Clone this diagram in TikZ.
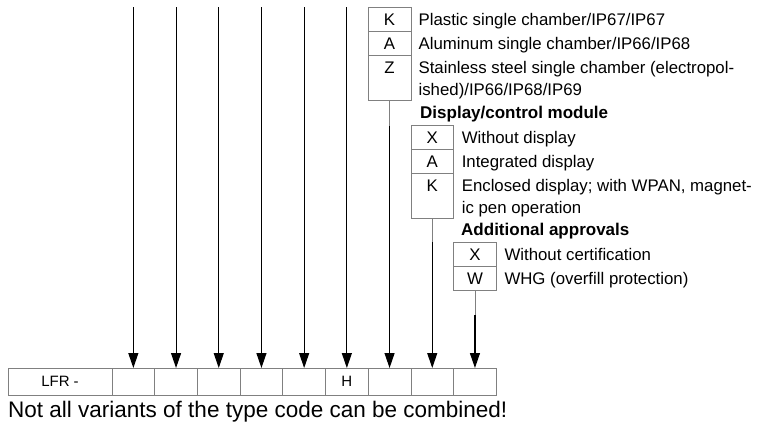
\documentclass[tikz,border=0pt]{standalone}
\usepackage{fontspec}
\setmainfont{Liberation Sans}
\usetikzlibrary{arrows.meta,positioning}

\tikzset{
    codecell/.style={draw=gray, line width=0.8pt, minimum width=42.7pt, minimum height=27pt, inner sep=0pt, outer sep=0pt, font=\fontsize{15}{18}\selectfont},
    optbox/.style={draw=gray, line width=0.8pt, minimum width=42.7pt, minimum height=24pt, inner sep=0pt, outer sep=0pt, text height=18pt, text depth=6pt, font=\fontsize{16.8}{22}\selectfont},
    optboxlong/.style={optbox, minimum height=45pt, text depth=27pt},
    opttext/.style={anchor=base west, inner sep=0pt, align=left, font=\fontsize{16.8}{22}\selectfont},
    headtext/.style={anchor=base west, inner sep=0pt, font=\bfseries\fontsize{17}{20}\selectfont},
    codearrow/.style={-{Triangle[length=15pt,width=10pt]}, line width=1.1pt},
    feedline/.style={gray, line width=0.8pt}
}

\begin{document}
\begin{tikzpicture}[x=1pt,y=-1pt]
                \useasboundingbox (0,0) rectangle (760,426);
                \coordinate (topline) at (0,7);
                \coordinate (disptop) at (0,125);
                \coordinate (apprtop) at (0,242);
                \node[codecell, minimum width=104pt] (c0) at (60,381.5) {LFR -};
                \foreach \i/\t [remember=\i as \last (initially 0)] in {1/,2/,3/,4/,5/,6/H,7/,8/,9/}
                    \node[codecell, right=0pt of c\last] (c\i) {\t};
                \foreach \i in {1,...,6}
                    \draw[codearrow] (c\i.north |- topline) -- (c\i.north);
                \node[optbox, anchor=north] (housK) at (c7.north |- topline) {K};
                \node[optbox, below=0pt of housK] (housA) {A};
                \node[optboxlong, below=0pt of housA] (housZ) {Z};
                \node[opttext] (housKt) at ([shift={(7.5,0)}]housK.base east) {Plastic single chamber/IP67/IP67};
                \node[opttext] (housAt) at ([shift={(7.5,0)}]housA.base east) {Aluminum single chamber/IP66/IP68};
                \node[opttext] (housZt) at ([shift={(7.5,22)}]housZ.base east) {Stainless steel single chamber (electropol-\\ished)/IP66/IP68/IP69};
                \node[headtext] (dispHead) at (420,118) {Display/control module};
                \node[optbox, anchor=north] (dispX) at (c8.north |- disptop) {X};
                \node[optbox, below=0pt of dispX] (dispA) {A};
                \node[optboxlong, below=0pt of dispA] (dispK) {K};
                \node[opttext] (dispXt) at ([shift={(8,0)}]dispX.base east) {Without display};
                \node[opttext] (dispAt) at ([shift={(8,0)}]dispA.base east) {Integrated display};
                \node[opttext] (dispKt) at ([shift={(8,22)}]dispK.base east) {Enclosed display; with WPAN, magnet-\\ic pen operation};
                \node[headtext] (apprHead) at (461,235) {Additional approvals};
                \node[optbox, anchor=north] (apprX) at (c9.north |- apprtop) {X};
                \node[optbox, below=0pt of apprX] (apprW) {W};
                \node[opttext] (apprXt) at ([shift={(8,0)}]apprX.base east) {Without certification};
                \node[opttext] (apprWt) at ([shift={(8,0)}]apprW.base east) {WHG (overfill protection)};
                \draw[feedline] (housZ.south) -- ++(0,26) coordinate (housEnd);
                \draw[codearrow] (housEnd) -- (c7.north);
                \draw[feedline] (dispK.south) -- ++(0,24) coordinate (dispEnd);
                \draw[codearrow] (dispEnd) -- (c8.north);
                \draw[feedline] (apprW.south) -- ++(0,25) coordinate (apprEnd);
                \draw[codearrow] (apprEnd) -- (c9.north);
                \node[anchor=base west, inner sep=0pt, font=\fontsize{22.5}{26}\selectfont] (note) at (8,417) {Not all variants of the type code can be combined!};
            \end{tikzpicture}
\end{document}
